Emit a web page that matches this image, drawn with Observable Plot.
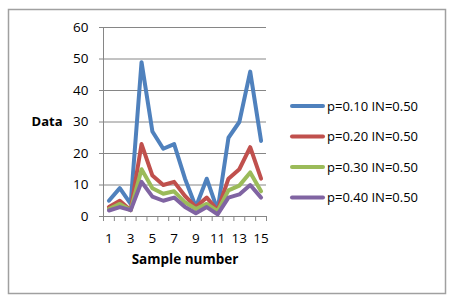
<!DOCTYPE html>
<html><head><meta charset="utf-8">
<script src="https://cdn.jsdelivr.net/npm/d3@7"></script>
<script src="https://cdn.jsdelivr.net/npm/@observablehq/plot@0.6"></script>
<style>body{margin:0;background:#fff}#chart{position:relative;width:455px;height:302px}</style>
</head><body><div id="chart"></div>
<script>
const samples = [1,2,3,4,5,6,7,8,9,10,11,12,13,14,15];
const seriesNames = ["p=0.10 IN=0.50","p=0.20 IN=0.50","p=0.30 IN=0.50","p=0.40 IN=0.50"];
const s010 = [5,9,4,49,27,21.5,23,12,3,12,2,25,30,46,24];
const s020 = [3,5,2,23,13,10,11,6.5,3,6,2,12,15,22,12];
const s030 = [2.4,4,2,15,9,7.2,8,4.5,2.4,4,1.7,8.3,9.8,14,8];
const s040 = [1.9,3,2,11,6.3,5,6,3,1,3,0.7,6,7,10,6];
const colors = ["#4F81BD","#C0504D","#9BBB59","#8064A2"];
const yTicks = [0,10,20,30,40,50,60];
const xTickLabels = [1,3,5,7,9,11,13,15];
const boundaries = d3.range(0.5,16,1);

const allSeries = [s010,s020,s030,s040];
const rows = [];
allSeries.forEach((vals,i)=>vals.forEach((v,j)=>rows.push({series:seriesNames[i],sample:samples[j],value:v})));

const grid = "#868686";
const plot = Plot.plot({
  width:455,height:302,marginLeft:103,marginRight:189,marginTop:27,marginBottom:86,
  style:{fontFamily:"'Open Sans', sans-serif",fontSize:"13px",color:"#000",background:"#fff",overflow:"visible"},
  x:{type:"linear",domain:[0.5,15.5]},
  y:{domain:[0,60]},
  color:{domain:seriesNames,range:colors},
  marks:[
    Plot.gridY(yTicks,{stroke:grid,strokeOpacity:1}),
    Plot.axisY(yTicks,{tickSize:4,tickPadding:11,stroke:grid,label:null,fontSize:13.5}),
    Plot.ruleX([0.5],{stroke:grid}),
    Plot.ruleY([0],{stroke:grid}),
    Plot.axisX(boundaries,{tickSize:5,tickFormat:()=>"",stroke:grid,label:null}),
    Plot.axisX(xTickLabels,{tickSize:0,tickPadding:17,label:null,fontSize:13.5}),
    Plot.line(rows,{x:"sample",y:"value",stroke:"series",z:"series",strokeWidth:4,strokeLinejoin:"round",strokeLinecap:"round"}),
    Plot.text(["Data"],{frameAnchor:"left",dx:-41,textAnchor:"end",fontWeight:"bold",fontSize:13}),
    Plot.text(["Sample number"],{frameAnchor:"bottom",dy:47,fontWeight:"bold",fontSize:13.5})
  ]
});
const svg = d3.select(plot);
svg.insert("rect",":first-child").attr("x",8.5).attr("y",9.5).attr("width",437).attr("height",284)
  .attr("fill","none").attr("stroke","#a0a0a0").attr("stroke-width",1.5);
const lg = svg.append("g").attr("text-anchor","start");
seriesNames.forEach((name,i)=>{
  const y = 106 + 30.5*i;
  lg.append("line").attr("x1",292).attr("x2",323).attr("y1",y).attr("y2",y)
    .attr("stroke",colors[i]).attr("stroke-width",4).attr("stroke-linecap","round");
  lg.append("text").attr("x",327).attr("y",y).attr("dy","0.35em").attr("text-anchor","start")
    .attr("fill","#000").attr("font-size",13).text(name);
});
document.getElementById("chart").appendChild(plot);
</script></body></html>
